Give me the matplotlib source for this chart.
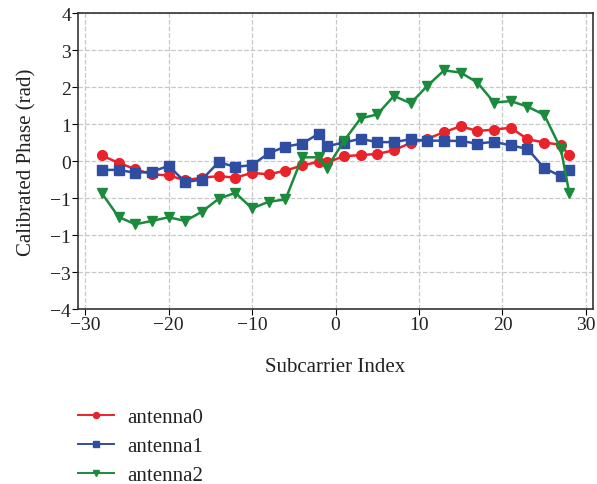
import matplotlib
matplotlib.use("Agg")
import matplotlib.pyplot as plt

# subcarrier indices of the 30 reported CSI groups
subcarriers = [-28, -26, -24, -22, -20, -18, -16, -14, -12, -10, -8, -6, -4, -2, -1,
               1, 3, 5, 7, 9, 11, 13, 15, 17, 19, 21, 23, 25, 27, 28]

antenna0 = [0.15, -0.05, -0.22, -0.36, -0.39, -0.52, -0.45, -0.41, -0.45, -0.32,
            -0.36, -0.26, -0.12, -0.02, -0.04,
            0.13, 0.16, 0.19, 0.29, 0.49, 0.60, 0.78, 0.94, 0.81, 0.85,
            0.90, 0.59, 0.50, 0.44, 0.15]
antenna1 = [-0.24, -0.24, -0.32, -0.29, -0.13, -0.57, -0.50, -0.03, -0.16, -0.11,
            0.21, 0.39, 0.47, 0.74, 0.40,
            0.50, 0.60, 0.51, 0.51, 0.59, 0.55, 0.55, 0.54, 0.47, 0.52,
            0.42, 0.33, -0.19, -0.41, -0.24]
antenna2 = [-0.87, -1.51, -1.71, -1.62, -1.52, -1.62, -1.37, -1.02, -0.86, -1.28,
            -1.10, -1.04, 0.10, 0.10, -0.18,
            0.54, 1.15, 1.26, 1.76, 1.56, 2.03, 2.45, 2.39, 2.12, 1.58,
            1.62, 1.47, 1.25, 0.33, -0.86]

series_names = ["antenna0", "antenna1", "antenna2"]
yticks = [4, 3, 2, 1, 0, -1, -2, -3, -4]
ytick_labels = ["4", "3", "2", "1", "0", "\u22121", "\u22121", "\u22123", "\u22124"]
xticks = [-30, -20, -10, 0, 10, 20, 30]

plt.rcParams["font.family"] = ["Liberation Serif", "DejaVu Serif"]
plt.rcParams["axes.unicode_minus"] = True
text_color = "#222222"

fig = plt.figure(figsize=(5.97, 4.85), dpi=100)
ax = fig.add_axes([0.1307, 0.3608, 0.8626, 0.6103])

styles = [("#e8232a", "o"), ("#2f4ea2", "s"), ("#1b8a3c", "v")]
for vals, name, (c, m) in zip([antenna0, antenna1, antenna2], series_names, styles):
    ax.plot(subcarriers, vals, color=c, marker=m, markersize=7, linewidth=1.8,
            label=name)

ax.set_xlim(-30.85, 30.85)
ax.set_ylim(-4, 4)
ax.set_xticks(xticks)
ax.set_yticks(yticks)
ax.set_yticklabels(ytick_labels)
ax.tick_params(labelsize=14, length=4, width=0.8, pad=1, labelcolor=text_color)
ax.grid(True, linestyle="--", color="#c8c8c8", linewidth=0.9)
ax.set_axisbelow(True)
for s in ax.spines.values():
    s.set_linewidth(1.2)
    s.set_color("#333333")

ax.set_xlabel("Subcarrier Index", fontsize=15, labelpad=17, color=text_color)
ax.set_ylabel("Calibrated Phase (rad)", fontsize=15, labelpad=10, color=text_color)

leg = fig.legend(loc="upper left", bbox_to_anchor=(0.117, 0.175), frameon=False,
                 fontsize=15, handlelength=1.7, labelspacing=0.45, borderaxespad=0,
                 handletextpad=0.65, markerscale=0.62)
for t in leg.get_texts():
    t.set_color(text_color)
for line in leg.get_lines():
    line.set_linewidth(1.4)

fig.savefig("out.png", dpi=100)
